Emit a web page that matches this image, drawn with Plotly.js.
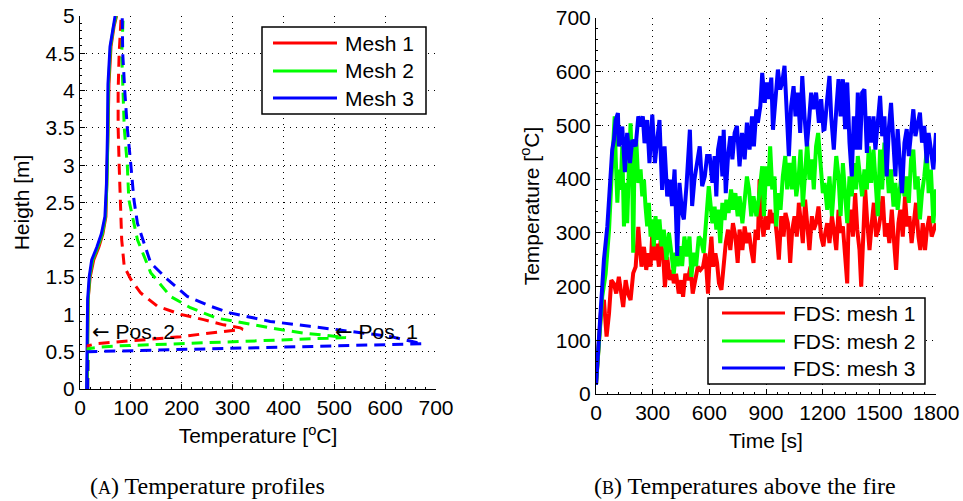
<!DOCTYPE html>
<html>
<head>
<meta charset="utf-8">
<script src="https://cdn.plot.ly/plotly-3.0.1.min.js"></script>
<style>html,body{margin:0;padding:0;background:#fff;}#chart{width:963px;height:501px;}</style>
</head>
<body>
<div id="chart"></div>
<script>
// ---------- Panel A: temperature profiles (height vs temperature) ----------
const legendA = ["Mesh 1", "Mesh 2", "Mesh 3"];
// Pos. 2 (solid)
const hSolid = [0, 0.5, 0.75, 1.2, 1.5, 1.73, 1.9, 2.08, 2.31, 2.75, 3.42, 4.09, 4.59, 4.86, 5];
const tSolid1 = [14, 15, 15, 16, 20, 27, 37, 45, 51, 53, 55, 57, 61, 67, 72];
const tSolid2 = [14, 15, 15, 16, 19, 25, 35, 44, 50, 53, 55, 56, 60, 66, 71];
const tSolid3 = [13, 14, 14, 15, 18, 23, 33, 42, 49, 52, 54, 55, 59, 65, 69];
// Pos. 1 (dashed)
const hDash1 = [0, 0.58, 0.61, 0.64, 0.67, 0.70, 0.74, 0.78, 0.80, 0.82, 0.86, 0.93, 1.0, 1.11, 1.29, 1.47, 1.64, 2.0, 2.5, 3, 3.5, 4, 4.5, 5];
const tDash1 = [15, 16, 35, 87, 139, 198, 243, 295, 320, 315, 282, 243, 198, 152, 119, 100, 87, 82, 79, 77, 75, 75, 77, 81];
const hDash2 = [0, 0.54, 0.563, 0.58, 0.594, 0.61, 0.625, 0.65, 0.66, 0.69, 0.705, 0.75, 0.82, 0.885, 0.95, 1.09, 1.24, 1.56, 2.0, 2.54, 3, 3.5, 4, 4.5, 5];
const tDash2 = [15, 16, 41, 80, 145, 211, 295, 374, 439, 523, 504, 439, 374, 322, 269, 217, 178, 139, 113, 96, 93, 87, 84, 82, 85];
const hDash3 = [0, 0.5, 0.505, 0.526, 0.548, 0.57, 0.584, 0.606, 0.705, 0.77, 0.84, 0.906, 1.02, 1.11, 1.24, 1.47, 1.69, 2.22, 2.54, 3, 3.5, 4, 4.5, 5];
const tDash3 = [15, 15, 47, 176, 309, 440, 570, 674, 609, 537, 452, 374, 295, 256, 211, 172, 139, 113, 106, 100, 93, 88, 84, 83];

// ---------- Panel B: temperatures above the fire (vs time) ----------
const legendB = ["FDS: mesh 1", "FDS: mesh 2", "FDS: mesh 3"];
const time1 = [0,16,28,42,56,69,81,95,107,121,134,144,157,169,183,197,210,224,232,241,254,266,276,289,298,310,320,333,342,356,365,377,391,403,412,424,438,451,461,473,486,500,512,527,539,553,567,579,593,
  602,611,620,632,641,651,664,676,687,699,711,725,738,750,760,775,787,799,810,822,834,845,857,866,875,887,898,910,922,933,945,958,968,981,993,1003,1016,1028,1039,1051,1063,1074,1086,1095,1107,1118,1130,1143,1153,1165,1178,1192,1204,
  1210,1224,1236,1249,1259,1272,1284,1295,1307,1319,1330,1337,1347,1360,1372,1383,1395,1404,1413,1425,1435,1448,1460,1471,1483,1495,1506,1518,1530,1541,1553,1566,1576,1589,1601,1611,1624,1636,1647,1659,1671,1682,1694,1707,1717,1730,1742,1752,1765,1777,1788,1800];
const temp1 = [17,119,162,175,107,150,212,205,187,218,187,162,212,187,175,225,237,311,274,237,274,231,262,237,299,249,280,237,286,255,199,255,212,231,206,224,187,212,181,224,212,237,187,218,237,231,237,262,187,
  256,293,237,262,244,206,194,244,281,306,268,318,293,244,306,268,312,281,300,268,244,306,287,399,325,293,331,306,343,318,337,293,250,331,293,337,318,244,306,331,293,356,318,281,362,318,268,331,306,318,349,293,275,
  293,318,281,331,306,268,343,300,312,244,206,318,343,293,374,306,268,200,293,381,325,268,318,356,293,306,331,368,293,318,281,343,293,231,318,343,293,368,312,331,281,318,356,293,268,318,268,306,331,293,306,318];
const time2 = [0,33,51,69,86,99,104,113,121,130,139,148,157,165,174,183,192,197,204,213,224,236,245,254,262,271,280,289,298,306,315,324,336,347,359,373,386,398,412,421,433,447,456,468,482,495,505,518,530,544,556,570,585,597,
  616,628,637,646,658,669,681,690,702,715,725,738,750,760,775,787,799,810,822,834,849,861,871,880,889,901,912,922,933,945,954,966,977,989,1002,1012,1025,1037,1048,1060,1072,1083,1095,1107,1118,1130,1143,1153,1165,1176,1188,1201,
  1210,1224,1236,1249,1259,1272,1284,1295,1307,1319,1330,1342,1354,1365,1377,1386,1398,1409,1421,1434,1444,1457,1469,1479,1492,1504,1515,1527,1539,1550,1562,1575,1585,1597,1610,1620,1633,1645,1656,1668,1680,1691,1703,1715,1726,1738,1751,1761,1773,1786,1800];
const temp2 = [17,181,224,305,430,517,443,356,418,380,461,312,393,318,418,504,399,263,443,473,393,418,368,399,350,312,356,293,325,275,331,287,325,275,306,250,300,263,224,263,238,275,238,293,256,293,218,263,238,293,287,263,325,387,
  318,349,306,343,281,356,324,362,337,381,343,374,331,368,318,368,405,381,331,368,331,362,393,424,331,424,387,461,381,405,312,374,343,405,443,381,430,381,443,368,399,455,349,424,468,399,437,381,461,486,424,374,
  393,343,405,331,381,443,405,331,430,356,318,405,368,430,381,443,405,368,418,381,461,393,455,405,331,455,381,468,430,374,418,349,393,343,381,418,368,405,356,437,455,381,405,325,374,405,455,374,418,318,381];
const time3 = [0,25,42,60,69,77,86,95,104,116,121,139,153,165,180,192,210,224,236,248,257,271,283,298,312,324,336,350,363,377,391,403,416,430,442,456,465,479,497,509,521,535,549,562,576,588,
  602,616,628,637,646,658,669,676,687,699,711,722,734,746,760,773,787,799,813,826,836,849,857,870,880,893,905,915,928,937,951,963,975,986,998,1011,1021,1033,1046,1056,1069,1081,1092,1104,1116,1127,1139,1151,1165,1180,1192,1204,
  1210,1224,1236,1245,1259,1272,1284,1295,1307,1319,1330,1342,1354,1365,1377,1386,1398,1409,1421,1434,1444,1457,1469,1479,1492,1504,1515,1527,1539,1550,1562,1575,1585,1597,1610,1620,1633,1645,1656,1668,1680,1691,1703,1715,1726,1738,1751,1761,1773,1786,1800];
const temp3 = [17,150,250,312,367,430,455,473,510,523,461,498,413,486,430,473,461,517,498,517,467,510,430,520,430,473,510,380,461,368,399,350,418,257,393,337,325,387,492,350,399,430,461,387,405,443,
  443,393,443,368,455,480,405,492,374,443,480,437,486,499,424,486,437,505,455,517,461,530,505,536,598,542,580,549,589,492,567,604,567,580,611,517,443,536,573,517,561,486,592,517,461,505,561,530,561,505,549,492,
  493,549,592,517,455,530,586,517,586,493,580,468,405,517,455,561,455,561,567,449,517,468,517,455,517,555,480,517,405,493,542,468,405,493,418,374,468,493,443,499,530,480,499,524,468,499,430,486,455,418,486];

const colors = ["#ff0000", "#00ff00", "#0000ff"];
const FONT = "Liberation Sans, Arial, sans-serif";
const FS = 21;

const traces = [];
[tSolid1, tSolid2, tSolid3].forEach((t, i) => traces.push({
  x: t, y: hSolid, type: "scatter", mode: "lines", name: legendA[i],
  line: {color: colors[i], width: 3}, xaxis: "x", yaxis: "y", showlegend: false, hoverinfo: "skip"
}));
[[tDash1, hDash1], [tDash2, hDash2], [tDash3, hDash3]].forEach((p, i) => traces.push({
  x: p[0], y: p[1], type: "scatter", mode: "lines", name: legendA[i],
  line: {color: colors[i], width: 3, dash: "11px,7px"}, xaxis: "x", yaxis: "y", showlegend: false, hoverinfo: "skip"
}));
[[time1, temp1], [time2, temp2], [time3, temp3]].forEach((p, i) => traces.push({
  x: p[0], y: p[1], type: "scatter", mode: "lines", name: legendB[i],
  line: {color: colors[i], width: 4}, xaxis: "x2", yaxis: "y2", showlegend: false, hoverinfo: "skip"
}));

const W = 963, H = 501;
const px = v => v / W, py = v => 1 - v / H;

const axisCommon = {
  showline: true, linecolor: "#000", linewidth: 1, mirror: false,
  ticks: "inside", ticklen: 5, tickcolor: "#000", tickwidth: 1,
  showgrid: true, gridcolor: "#000", gridwidth: 1, griddash: "1px,5px",
  zeroline: false, tickfont: {family: FONT, size: FS, color: "#000"},
  automargin: false
};

// custom legend boxes (shapes + annotations)
const shapes = [], annotations = [];
function addLegend(x0, x1, y0, y1, lx0, lx1, ys, tx, labels) {
  shapes.push({type: "rect", xref: "paper", yref: "paper", x0: px(x0), x1: px(x1), y0: py(y1), y1: py(y0),
    line: {color: "#000", width: 1.5}, fillcolor: "#fff", layer: "above"});
  labels.forEach((lab, i) => {
    shapes.push({type: "line", xref: "paper", yref: "paper", x0: px(lx0), x1: px(lx1), y0: py(ys[i]), y1: py(ys[i]),
      line: {color: colors[i], width: 3}, layer: "above"});
    annotations.push({xref: "paper", yref: "paper", x: px(tx), y: py(ys[i]), xanchor: "left", yanchor: "middle",
      text: lab, showarrow: false, font: {family: FONT, size: FS, color: "#000"}});
  });
}
addLegend(262, 426, 27, 114, 273, 337, [43, 71, 98], 343, legendA);
addLegend(708, 925, 298, 384, 722, 785, [313, 341, 368], 791, legendB);

const ARROW = "<span style='font-family:DejaVu Sans'>\u2190</span> ";
annotations.push({xref: "x", yref: "y", x: 20, y: 0.77, xanchor: "left", yanchor: "middle", showarrow: false,
  text: ARROW + "Pos. 2", font: {family: FONT, size: FS, color: "#000"}});
annotations.push({xref: "x", yref: "y", x: 498, y: 0.77, xanchor: "left", yanchor: "middle", showarrow: false,
  text: ARROW + "Pos. 1", font: {family: FONT, size: FS, color: "#000"}});
annotations.push({xref: "paper", yref: "paper", x: px(207), y: py(486), xanchor: "center", yanchor: "middle", showarrow: false,
  text: "(<span style='font-size:18px'>A</span>) Temperature profiles", font: {family: "Liberation Serif, serif", size: 24, color: "#000"}});
annotations.push({xref: "paper", yref: "paper", x: px(745), y: py(486), xanchor: "center", yanchor: "middle", showarrow: false,
  text: "(<span style='font-size:18px'>B</span>) Temperatures above the fire", font: {family: "Liberation Serif, serif", size: 24, color: "#000"}});

const TF = {family: FONT, size: FS, color: "#000"};
const layout = {
  width: W, height: H, margin: {l: 0, r: 0, t: 0, b: 0},
  paper_bgcolor: "#fff", plot_bgcolor: "#fff", showlegend: false,
  xaxis: Object.assign({}, axisCommon, {domain: [px(80), px(436)], range: [0, 700], dtick: 100, tick0: 0,
    title: {text: "Temperature [<sup>o</sup>C]", font: TF, standoff: 10}, anchor: "y",
    minor: {ticks: "inside", ticklen: 2, dtick: 20, tickcolor: "#000", showgrid: false}}),
  yaxis: Object.assign({}, axisCommon, {domain: [py(389), py(16)], range: [0, 5], dtick: 0.5, tick0: 0,
    title: {text: "Heigth [m]", font: TF, standoff: 10}, anchor: "x",
    minor: {ticks: "inside", ticklen: 2, dtick: 0.1, tickcolor: "#000", showgrid: false}}),
  xaxis2: Object.assign({}, axisCommon, {domain: [px(596), px(936)], range: [0, 1800], dtick: 300, tick0: 0,
    title: {text: "Time [s]", font: TF, standoff: 10}, anchor: "y2",
    minor: {ticks: "inside", ticklen: 2, dtick: 60, tickcolor: "#000", showgrid: false}}),
  yaxis2: Object.assign({}, axisCommon, {domain: [py(394), py(18)], range: [0, 700], dtick: 100, tick0: 0,
    title: {text: "Temperature [<sup>o</sup>C]", font: TF, standoff: 10}, anchor: "x2",
    minor: {ticks: "inside", ticklen: 2, dtick: 20, tickcolor: "#000", showgrid: false}}),
  shapes: shapes, annotations: annotations
};

Plotly.newPlot("chart", traces, layout, {staticPlot: true, displayModeBar: false});
</script>
</body>
</html>
